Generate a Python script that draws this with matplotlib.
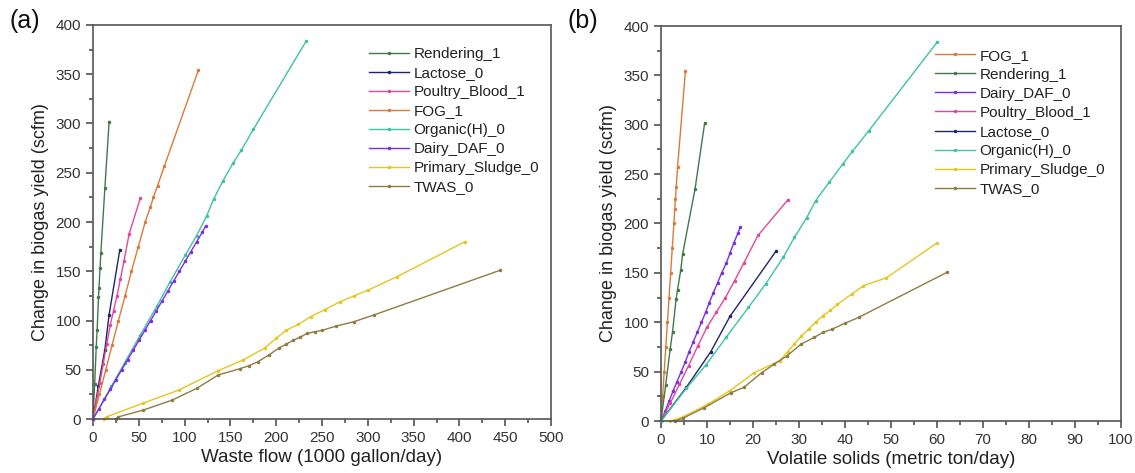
import numpy as np
import matplotlib
matplotlib.use("Agg")
import matplotlib.pyplot as plt
from matplotlib.ticker import MultipleLocator

plt.rcParams['font.family'] = ['Liberation Sans', 'DejaVu Sans']

# ---- data ----
# x: waste flow (1000 gallon/day) for panel a, volatile solids (metric ton/day) for panel b
rendering_yield = [0, 36, 73, 90, 124, 133, 153, 169, 235, 302]
rendering_flow = [0, 1.8, 3.5, 4.5, 6.0, 6.5, 7.7, 8.6, 13.0, 17.6]
rendering_vs = [0, 1.0, 2.0, 2.5, 3.3, 3.6, 4.3, 4.7, 7.4, 9.5]

lactose_yield = [0, 34, 70, 106, 172]
lactose_flow = [0, 5.9, 12.9, 17.6, 29.3]
lactose_vs = [0, 5.5, 10.8, 15.0, 25.0]

poultry_yield = [0, 18, 37, 56, 76, 95, 110, 125, 142, 160, 188, 224]
poultry_flow = [0, 3.7, 7.5, 11.2, 15.0, 18.7, 22.4, 26.2, 29.9, 33.7, 39.5, 51.6]
poultry_vs = [0, 2, 4, 6, 8, 10, 12, 14, 16, 18, 21.1, 27.6]

fog_yield = [0, 25, 50, 75, 100, 125, 150, 175, 200, 215, 225, 237, 257, 354]
fog_flow = [0, 7, 14, 20.8, 27.8, 35, 42, 49.5, 57, 62.5, 66, 70.5, 78, 115]
fog_vs = [0, 0.35, 0.7, 1.05, 1.4, 1.75, 2.1, 2.45, 2.8, 3.0, 3.15, 3.3, 3.6, 5.3]

organic_yield = [0, 33, 57, 85, 115, 139, 166, 186, 206, 223, 242, 260, 273, 294, 384]
organic_flow = [0, 20, 34.5, 51.5, 70, 84, 100.5, 113, 124, 131.6, 142, 153, 162, 175, 233]
organic_vs = [0, 5.5, 9.8, 14.2, 19.0, 22.8, 26.6, 29.0, 31.7, 33.6, 36.6, 39.5, 41.6, 45.2, 60.1]

dairy_yield = [0, 10, 20, 30, 40, 50, 60, 70, 80, 90, 100, 110, 120, 130, 140,
               150, 160, 170, 180, 190, 196]
dairy_flow = [0, 6.3, 12.5, 18.9, 25, 31.4, 37.7, 44, 50.3, 56.6, 62.9, 69.2,
              75.5, 81.8, 88, 94.3, 100.6, 106.9, 113.2, 119.5, 123]
dairy_vs = [0, 0.9, 1.75, 2.6, 3.5, 4.4, 5.3, 6.1, 7.0, 7.9, 8.8, 9.7, 10.5,
            11.4, 12.3, 13.2, 14.2, 15.0, 15.8, 16.7, 17.2]

primary_flow = [12, 15.4, 54.6, 93.6, 136.6, 164, 187.4, 200, 210.8, 224, 238,
                253, 269.5, 285, 300.7, 332, 406]
primary_yield_a = [0, 2.4, 16, 29.4, 49, 60, 72, 82, 90, 96, 104, 111, 119,
                   125, 131, 144.5, 180]
primary_vs = [2, 4.7, 10.2, 14.9, 20.3, 25.8, 27.5, 29, 30.5, 32.1, 33.6, 35.2,
              36.8, 38.3, 41.5, 44, 49, 59.9]
primary_yield_b = [0, 4, 17, 30.5, 49, 61, 70, 78, 86, 93, 100, 106.6, 112,
                   118, 128.6, 137, 145, 180]

twas_flow = [25, 27, 54.7, 86, 113, 136.7, 160, 170, 179.7, 192, 203, 211,
             218.75, 226, 234, 242, 250, 265.6, 285, 306.6, 444.5]
twas_yield_a = [0, 2, 9, 19, 31, 44.7, 51, 54, 58, 65, 72, 76, 80, 83, 87,
                88.5, 90, 94.4, 98.8, 105.6, 151]
twas_vs = [3, 4.7, 9.4, 15.3, 18, 21.9, 24.6, 27.4, 30.5, 33.3, 35.2, 37.2,
           40, 43, 62.2]
twas_yield_b = [0, 2.7, 13.5, 28.8, 34, 49, 57.5, 66, 78, 84.6, 89.7, 93,
                99, 105, 150.6]

colors = {
    'Rendering_1': '#3f7a4c',
    'Lactose_0': '#23226e',
    'Poultry_Blood_1': '#e2479d',
    'FOG_1': '#d97b3c',
    'Organic(H)_0': '#3fc2a4',
    'Dairy_DAF_0': '#7a30e2',
    'Primary_Sludge_0': '#e5c520',
    'TWAS_0': '#8f7c40',
}

panel_a = [
    ('Rendering_1', rendering_flow, rendering_yield),
    ('Lactose_0', lactose_flow, lactose_yield),
    ('Poultry_Blood_1', poultry_flow, poultry_yield),
    ('FOG_1', fog_flow, fog_yield),
    ('Organic(H)_0', organic_flow, organic_yield),
    ('Dairy_DAF_0', dairy_flow, dairy_yield),
    ('Primary_Sludge_0', primary_flow, primary_yield_a),
    ('TWAS_0', twas_flow, twas_yield_a),
]
panel_b = [
    ('FOG_1', fog_vs, fog_yield),
    ('Rendering_1', rendering_vs, rendering_yield),
    ('Dairy_DAF_0', dairy_vs, dairy_yield),
    ('Poultry_Blood_1', poultry_vs, poultry_yield),
    ('Lactose_0', lactose_vs, lactose_yield),
    ('Organic(H)_0', organic_vs, organic_yield),
    ('Primary_Sludge_0', primary_vs, primary_yield_b),
    ('TWAS_0', twas_vs, twas_yield_b),
]

fig = plt.figure(figsize=(11.35, 4.73), dpi=100)
ax_a = fig.add_axes([93 / 1135, 54 / 473, 458 / 1135, 394 / 473])
ax_b = fig.add_axes([661 / 1135, 52 / 473, 460 / 1135, 395 / 473])


def style_axes(ax, xmax, xmajor, xminor, xlabel, legend_anchor):
    ax.set_xlim(0, xmax)
    ax.set_ylim(0, 400)
    ax.xaxis.set_major_locator(MultipleLocator(xmajor))
    ax.xaxis.set_minor_locator(MultipleLocator(xminor))
    ax.yaxis.set_major_locator(MultipleLocator(50))
    ax.yaxis.set_minor_locator(MultipleLocator(25))
    ax.tick_params(which='both', direction='out', colors='#444444',
                   labelcolor='#333333', labelsize=11, width=1.1)
    ax.tick_params(which='major', length=5)
    ax.tick_params(which='minor', length=3)
    for side in ax.spines.values():
        side.set_color('#555555')
        side.set_linewidth(1.2)
    ax.set_xlabel(xlabel, fontsize=13.5, color='#222222', labelpad=3)
    ax.set_ylabel('Change in biogas yield (scfm)', fontsize=13,
                  color='#222222', labelpad=5)
    leg = ax.legend(loc='upper left', bbox_to_anchor=legend_anchor,
                    frameon=False, fontsize=11, handlelength=2.6,
                    handletextpad=0.3, labelspacing=0.33, borderaxespad=0,
                    numpoints=1)
    for t in leg.get_texts():
        t.set_color('#222222')


for ax, series in ((ax_a, panel_a), (ax_b, panel_b)):
    for name, xs, ys in series:
        ax.plot(xs, ys, color=colors[name], lw=1.0, marker='.',
                markersize=3, label=name, clip_on=False)

style_axes(ax_a, 500, 50, 25, 'Waste flow (1000 gallon/day)', (0.59, 0.96))
style_axes(ax_b, 100, 10, 5, 'Volatile solids (metric ton/day)', (0.583, 0.958))

fig.text(0.008, 0.955, '(a)', fontsize=18, va='center', color='#111111')
fig.text(0.5, 0.955, '(b)', fontsize=18, va='center', color='#111111')

fig.savefig('out.png', dpi=100)
